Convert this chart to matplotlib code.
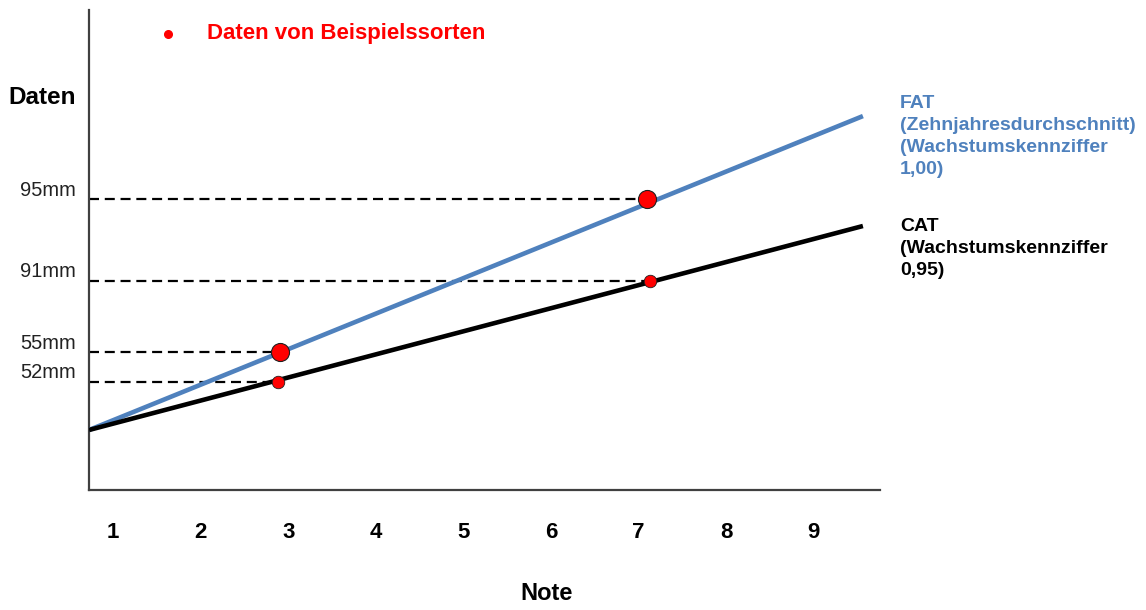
import matplotlib
matplotlib.use("Agg")
import matplotlib.pyplot as plt

# ---- data (schematic units) ----
note_ticks = [1, 2, 3, 4, 5, 6, 7, 8, 9]
x_range = [0.726, 9.56]            # start / end of the lines on the Note axis
fat_line = [12.5, 77.9]            # FAT line heights at start / end
cat_line = [12.5, 55.0]            # CAT line heights at start / end
fat_pts_x = [2.91, 7.10]
fat_pts_y = [28.7, 60.6]
cat_pts_x = [2.88, 7.13]
cat_pts_y = [22.6, 43.6]
level_labels = ["95mm", "91mm", "55mm", "52mm"]
level_heights = [60.6, 43.6, 28.7, 22.6]
level_ends = [7.10, 7.13, 2.91, 2.88]

W, H = 1146, 610
fig = plt.figure(figsize=(W / 100, H / 100), dpi=100)
ax = fig.add_axes([89 / W, 1 - 490 / H, (880 - 89) / W, (490 - 10) / H])
ax.set_xlim(0.726, 9.755)
ax.set_ylim(0, 100)

for s in ["top", "right"]:
    ax.spines[s].set_visible(False)
for s in ["left", "bottom"]:
    ax.spines[s].set_color("#404040")
    ax.spines[s].set_linewidth(1.6)

blue = "#4F81BD"
narrow = ["Liberation Sans Narrow", "Liberation Sans", "DejaVu Sans"]
sans = ["Liberation Sans", "DejaVu Sans"]

# dashed guide lines
for lab, h, xe in zip(level_labels, level_heights, level_ends):
    ax.plot([0.726, xe], [h, h], color="black", lw=1.6, ls=(0, (4.5, 2.6)),
            zorder=2, clip_on=False)
    ax.annotate(lab, xy=(0, h), xycoords=("axes fraction", "data"),
                xytext=(-13, 9), textcoords="offset pixels", ha="right",
                va="center", fontsize=14.5, family=sans, color="#222222")

ax.plot(x_range, fat_line, color=blue, lw=3.3, solid_capstyle="butt", zorder=3)
ax.plot(x_range, cat_line, color="black", lw=3.3, solid_capstyle="butt", zorder=3)

ax.plot(fat_pts_x, fat_pts_y, "o", ms=13, mfc="red", mec="#202020", mew=0.8, zorder=5)
ax.plot(cat_pts_x, cat_pts_y, "o", ms=9, mfc="red", mec="#202020", mew=0.6, zorder=5)

ax.set_xticks(note_ticks)
ax.set_xticklabels([str(t) for t in note_ticks], fontsize=16, fontweight="bold",
                   family=narrow)
ax.tick_params(axis="x", length=0, pad=23)
ax.set_yticks([])

def fx(px):
    return px / W

def fy(py):
    return 1 - py / H

fig.text(fx(8), fy(98), "Daten", fontsize=17.5, fontweight="bold", family=sans,
         ha="left", va="center")
fig.text(fx(547), fy(594), "Note", fontsize=17, fontweight="bold", family=narrow,
         ha="center", va="center")

# legend
fig.lines.append(plt.Line2D([fx(168)], [fy(34)], marker="o", ms=5.5, mfc="red",
                            mec="red", transform=fig.transFigure, ls="none"))
fig.text(fx(207), fy(34), "Daten von Beispielssorten", fontsize=16,
         fontweight="bold", color="red", family=sans, ha="left", va="center")

fig.text(fx(900), fy(95), "FAT\n(Zehnjahresdurchschnitt)\n(Wachstumskennziffer\n1,00)",
         fontsize=14, fontweight="bold", color=blue, family=sans, ha="left",
         va="top", linespacing=1.38)
fig.text(fx(900), fy(218), "CAT\n(Wachstumskennziffer\n0,95)",
         fontsize=14, fontweight="bold", color="black", family=sans, ha="left",
         va="top", linespacing=1.38)

fig.savefig("out.png", dpi=100)
